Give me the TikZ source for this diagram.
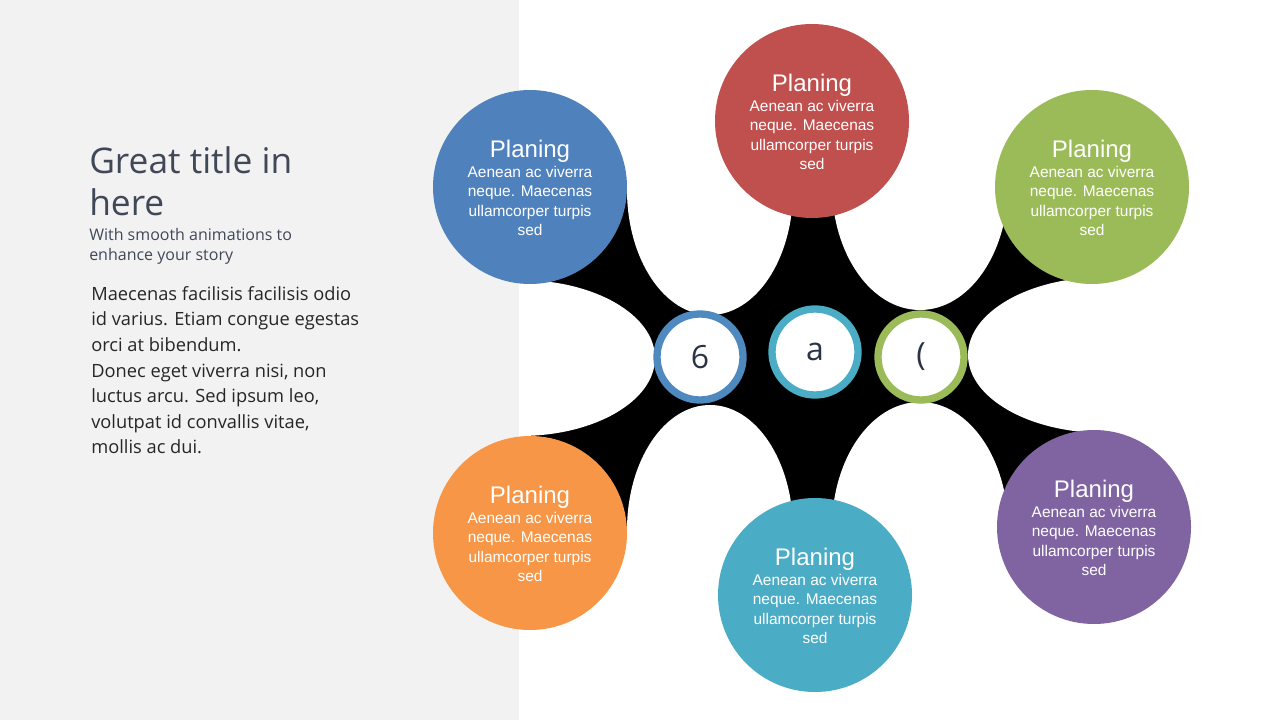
\documentclass[tikz,border=0pt]{standalone}
\usepackage{fontspec}
\setmainfont{Open Sans}
\newfontfamily\arialf{Liberation Sans}
\begin{document}
\begin{tikzpicture}[x=0.75pt,y=-0.75pt,
    bubble/.style={circle,minimum size=194*0.75pt,inner sep=0pt},
    head/.style={font=\arialf\fontsize{18}{20}\selectfont,text=white},
    blurb/.style={font=\arialf\fontsize{11.6}{14.6}\selectfont,text=white,align=center},
    ring/.style={circle,draw=#1,line width=5.5pt,fill=white,minimum size=86*0.75pt,inner sep=0pt,
      font=\fontsize{24}{26}\selectfont,text=ink}]
\definecolor{cblue}{HTML}{4F81BD}
\definecolor{cred}{HTML}{C0504D}
\definecolor{cgreen}{HTML}{9BBB59}
\definecolor{corange}{HTML}{F79646}
\definecolor{cteal}{HTML}{4BACC6}
\definecolor{cpurple}{HTML}{8064A2}
\definecolor{ink}{HTML}{2B3446}
\useasboundingbox (0,0) rectangle (1280,720);
\fill[white] (0,0) rectangle (1280,720);
% black web cut by white ellipses
\fill[black] (530,187) rectangle (1094,530);
\fill[white] (520,358) ellipse [x radius=135,y radius=78];
\fill[white] (710,190) ellipse [x radius=83,y radius=125];
\fill[white] (710,530) ellipse [x radius=83,y radius=125];
\fill[white] (920,185) ellipse [x radius=88,y radius=125];
\fill[white] (920,528) ellipse [x radius=88,y radius=126];
\fill[white] (1105,355) ellipse [x radius=137,y radius=78];
\fill[black!5] (0,0) rectangle (519,720);
% bubbles
\foreach \nm/\cx/\cy/\col in {pb/530/187/cblue, pr/812/121/cred, pg/1092/187/cgreen,
    po/530/533/corange, pt/815/595/cteal, pp/1094/527/cpurple}{
  \node[bubble,fill=\col] (\nm) at (\cx,\cy) {};
  \node[head] (\nm-h) at (\cx,\cy-36) {Planing};
  \node[blurb] (\nm-t) at (\cx,\cy+14) {Aenean ac viverra\\neque. Maecenas\\ullamcorper turpis\\sed};
}
% rings
\node[ring=cblue!80!cteal] (rl) at (700,357) {6};
\node[ring=cteal] (rm) at (815,352) {a};
\node[ring=cgreen] (rr) at (921,357) {(};
% left panel text
\node[anchor=north west,align=left,text=ink!90!white,font=\fontsize{26.5}{32}\selectfont,inner sep=0pt] (title) at (89,146) {Great title in\\here};
\node[anchor=north west,align=left,text=ink!90!white,font=\fontsize{12}{15}\selectfont,inner sep=0pt] (sub) at (89,228) {With smooth animations to\\enhance your story};
\node[anchor=north west,align=left,text=black!85,font=\fontsize{13.7}{19.2}\selectfont,inner sep=0pt] (body) at (91,286)
  {Maecenas facilisis facilisis odio\\id varius. Etiam congue egestas\\orci at bibendum.\\Donec eget viverra nisi, non\\luctus arcu. Sed ipsum leo,\\volutpat id convallis vitae,\\mollis ac dui.};
\end{tikzpicture}
\end{document}
